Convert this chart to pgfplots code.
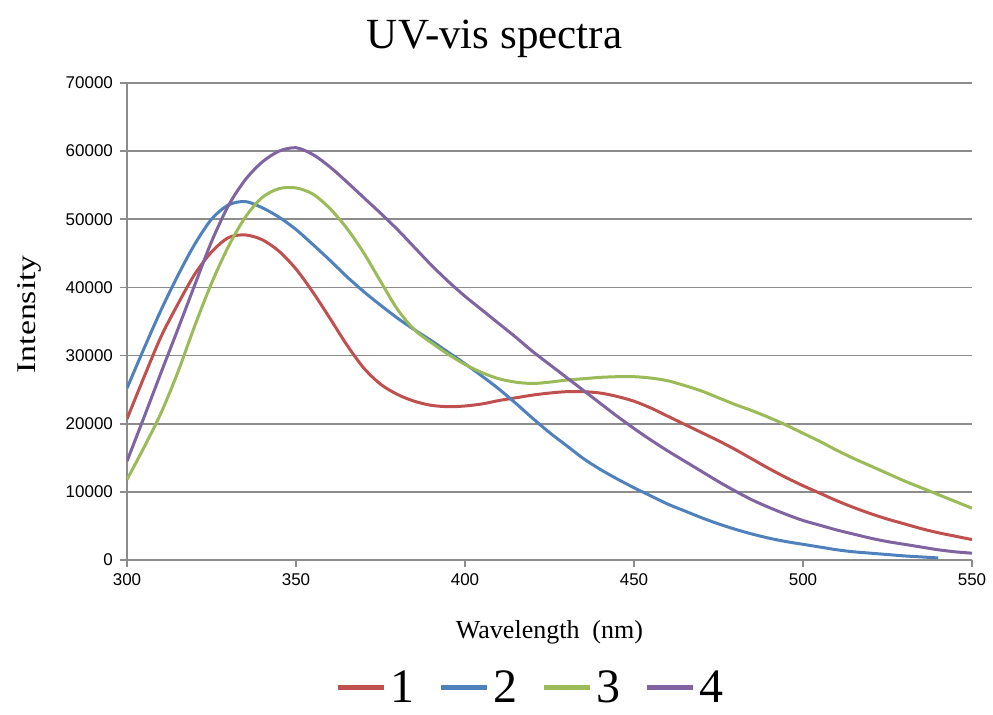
\documentclass[border=0pt]{standalone}
\usepackage{pgfplots}
\pgfplotsset{compat=1.18}
\usepackage{graphicx}
\usepackage{fontspec}
\setmainfont{Liberation Serif}
\newfontfamily\tickfont{Liberation Sans}

\definecolor{cred}{HTML}{C0504D}
\definecolor{cblue}{HTML}{4F81BD}
\definecolor{cgreen}{HTML}{9BBB59}
\definecolor{cpurple}{HTML}{8064A2}
\definecolor{gridgray}{HTML}{8C8C8C}

\begin{document}
\begin{tikzpicture}
\begin{axis}[
    name=ax,
    scale only axis,
    width=422.5pt,
    height=238.5pt,
    xmin=300, xmax=550,
    ymin=0, ymax=70000,
    xtick={300,350,...,550},
    ytick={0,10000,...,70000},
    scaled y ticks=false,
    yticklabel style={/pgf/number format/.cd, fixed, 1000 sep={}},
    /pgf/number format/assume math mode=true,
    axis x line*=bottom,
    axis y line*=left,
    ymajorgrids,
    major grid style={draw=gridgray, line width=0.8pt},
    axis line style={draw=gridgray, line width=0.8pt},
    tick style={draw=gridgray, line width=0.8pt},
    tick align=outside,
    major tick length=3.5pt,
    ticklabel style={font=\tickfont\fontsize{8.5}{10}\selectfont},
    xlabel={Wavelength\ \ (nm)},
    ylabel={\scalebox{1.25}[1]{Intensity}},
    xlabel style={font=\fontsize{13}{15}\selectfont, at={(axis description cs:0.5,-0.151)}, anchor=center},
    ylabel style={font=\fontsize{13.5}{15}\selectfont, at={(axis description cs:-0.115,0.515)}, anchor=center},
    title={UV-vis spectra},
    title style={font=\fontsize{21.5}{24}\selectfont, at={(axis description cs:0.435,1.068)}, anchor=center},
    legend columns=4,
    legend style={at={(0.479,-0.268)}, anchor=center, draw=none,
        font=\fontsize{24}{26}\selectfont,
        /tikz/every even column/.append style={column sep=10pt}},
    legend image code/.code={\draw[#1, line width=2.5pt] (0pt,0pt) -- (23pt,0pt);},
    every axis plot/.append style={line width=1.5pt, smooth, no markers},
]

% 1
\addplot[cred] coordinates {(300,20700) (305,26800) (310,32700) (315,37500) (320,41900) (325,45200) (330,47300) (335,47700) (340,47000) (345,45300) (350,42700) (355,39300) (360,35500) (365,31600) (370,28200) (375,25800) (380,24300) (385,23300) (390,22700) (395,22500) (400,22600) (405,22900) (410,23400) (415,23800) (420,24200) (425,24500) (430,24700) (435,24700) (440,24500) (445,24000) (450,23300) (455,22300) (460,21100) (465,19900) (470,18700) (475,17500) (480,16200) (485,14800) (490,13400) (495,12100) (500,10900) (505,9800) (510,8700) (515,7700) (520,6800) (525,6000) (530,5300) (535,4600) (540,4000) (545,3500) (550,3000)};
\addlegendentry{1}

% 2
\addplot[cblue] coordinates {(300,25200) (305,31000) (310,36600) (315,41700) (320,46300) (325,50000) (330,52100) (335,52600) (340,51700) (345,50300) (350,48500) (355,46300) (360,44000) (365,41600) (370,39400) (375,37400) (380,35500) (385,33800) (390,32200) (395,30500) (400,28800) (405,27000) (410,25100) (415,23000) (420,20800) (425,18700) (430,16800) (435,14900) (440,13300) (445,11900) (450,10600) (455,9400) (460,8200) (465,7200) (470,6200) (475,5300) (480,4500) (485,3800) (490,3200) (495,2700) (500,2300) (505,1900) (510,1500) (515,1200) (520,1000) (525,800) (530,600) (535,450) (540,300)};
\addlegendentry{2}

% 3
\addplot[cgreen] coordinates {(300,11800) (305,16500) (310,21500) (315,27500) (320,34300) (325,40600) (330,46000) (335,50300) (340,53200) (345,54500) (350,54600) (355,53700) (360,51600) (365,48700) (370,45100) (375,40900) (380,36800) (385,33800) (390,31900) (395,30200) (400,28700) (405,27500) (410,26600) (415,26100) (420,25900) (425,26100) (430,26400) (435,26600) (440,26800) (445,26900) (450,26900) (455,26700) (460,26300) (465,25600) (470,24800) (475,23800) (480,22800) (485,21900) (490,20900) (495,19800) (500,18600) (505,17400) (510,16100) (515,14900) (520,13800) (525,12700) (530,11600) (535,10600) (540,9600) (545,8600) (550,7600)};
\addlegendentry{3}

% 4
\addplot[cpurple] coordinates {(300,14500) (305,20900) (310,27400) (315,33800) (320,40300) (325,46700) (330,52000) (335,55800) (340,58400) (345,60000) (350,60500) (355,59500) (360,57700) (365,55500) (370,53200) (375,50900) (380,48500) (385,45900) (390,43300) (395,40900) (400,38700) (405,36700) (410,34700) (415,32700) (420,30600) (425,28700) (430,26800) (435,24900) (440,23000) (445,21100) (450,19300) (455,17600) (460,16000) (465,14500) (470,13000) (475,11500) (480,10100) (485,8800) (490,7700) (495,6700) (500,5800) (505,5100) (510,4400) (515,3800) (520,3200) (525,2700) (530,2300) (535,1900) (540,1500) (545,1200) (550,1000)};
\addlegendentry{4}

\end{axis}
\pgfresetboundingbox
\path[use as bounding box] ([shift={(-63.5pt,-77.5pt)}]ax.south west) rectangle ([shift={(10.5pt,41.5pt)}]ax.north east);
\end{tikzpicture}
\end{document}
